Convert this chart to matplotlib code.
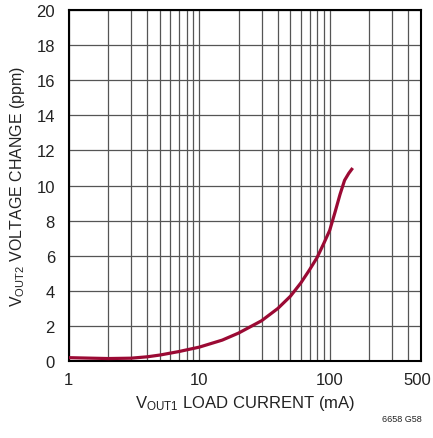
import matplotlib
matplotlib.use('Agg')
import matplotlib.pyplot as plt
import matplotlib.transforms as mtransforms
from matplotlib.ticker import FixedLocator, NullFormatter

plt.rcParams['font.family'] = ['Liberation Sans Narrow', 'Liberation Sans', 'DejaVu Sans']
plt.rcParams['mathtext.default'] = 'regular'

# load current (mA) vs VOUT2 voltage change (ppm)
load_ma = [1, 1.5, 2, 3, 4, 5, 7, 10, 15, 20, 30, 40, 50, 60, 70, 80, 90, 100, 110, 120, 130, 140, 150]
change_ppm = [0.2, 0.17, 0.15, 0.17, 0.25, 0.35, 0.55, 0.8, 1.2, 1.6, 2.3, 3.0, 3.7, 4.45, 5.2, 5.9, 6.7, 7.45, 8.5, 9.5, 10.3, 10.7, 11.0]

x_ticks = [1, 10, 100, 500]
x_minor = [2, 3, 4, 5, 6, 7, 8, 9, 20, 30, 40, 50, 60, 70, 80, 90, 200, 300, 400]
y_ticks = list(range(0, 21, 2))

fig = plt.figure(figsize=(4.33, 4.39), dpi=100)
ax = fig.add_axes([0.159, 0.175, 0.813, 0.800])

ax.plot(load_ma, change_ppm, color='#9b0a34', lw=2.3, solid_capstyle='butt',
        solid_joinstyle='round', zorder=3)

ax.set_xscale('log')
ax.set_xlim(1, 500)
ax.set_ylim(0, 20)
ax.xaxis.set_major_locator(FixedLocator(x_ticks))
ax.xaxis.set_minor_locator(FixedLocator(x_minor))
ax.xaxis.set_minor_formatter(NullFormatter())
ax.set_xticklabels([str(t) for t in x_ticks])
ax.set_yticks(y_ticks)

ax.grid(True, which='both', axis='x', color='#555555', lw=0.9)
ax.grid(True, which='major', axis='y', color='#555555', lw=0.9)
ax.tick_params(which='both', length=0, labelsize=12, colors='#222222')
ax.tick_params(axis='x', pad=8)
ax.tick_params(axis='y', pad=10)
for s in ax.spines.values():
    s.set_linewidth(1.5)
    s.set_color('black')

# keep the last x label inside the canvas
last = ax.get_xticklabels()[-1]
last.set_transform(last.get_transform() + mtransforms.ScaledTranslation(-4 / 100, 0, fig.dpi_scale_trans))

ax.set_xlabel('V$_{OUT1}$ LOAD CURRENT (mA)', fontsize=12, color='#222222', labelpad=4)
ax.set_ylabel('V$_{OUT2}$ VOLTAGE CHANGE (ppm)', fontsize=11.5, color='#222222', labelpad=7)

fig.text(0.975, 0.035, '6658 G58', fontsize=6.5, ha='right', va='bottom', color='#222222')

fig.savefig('out.png', dpi=100)
